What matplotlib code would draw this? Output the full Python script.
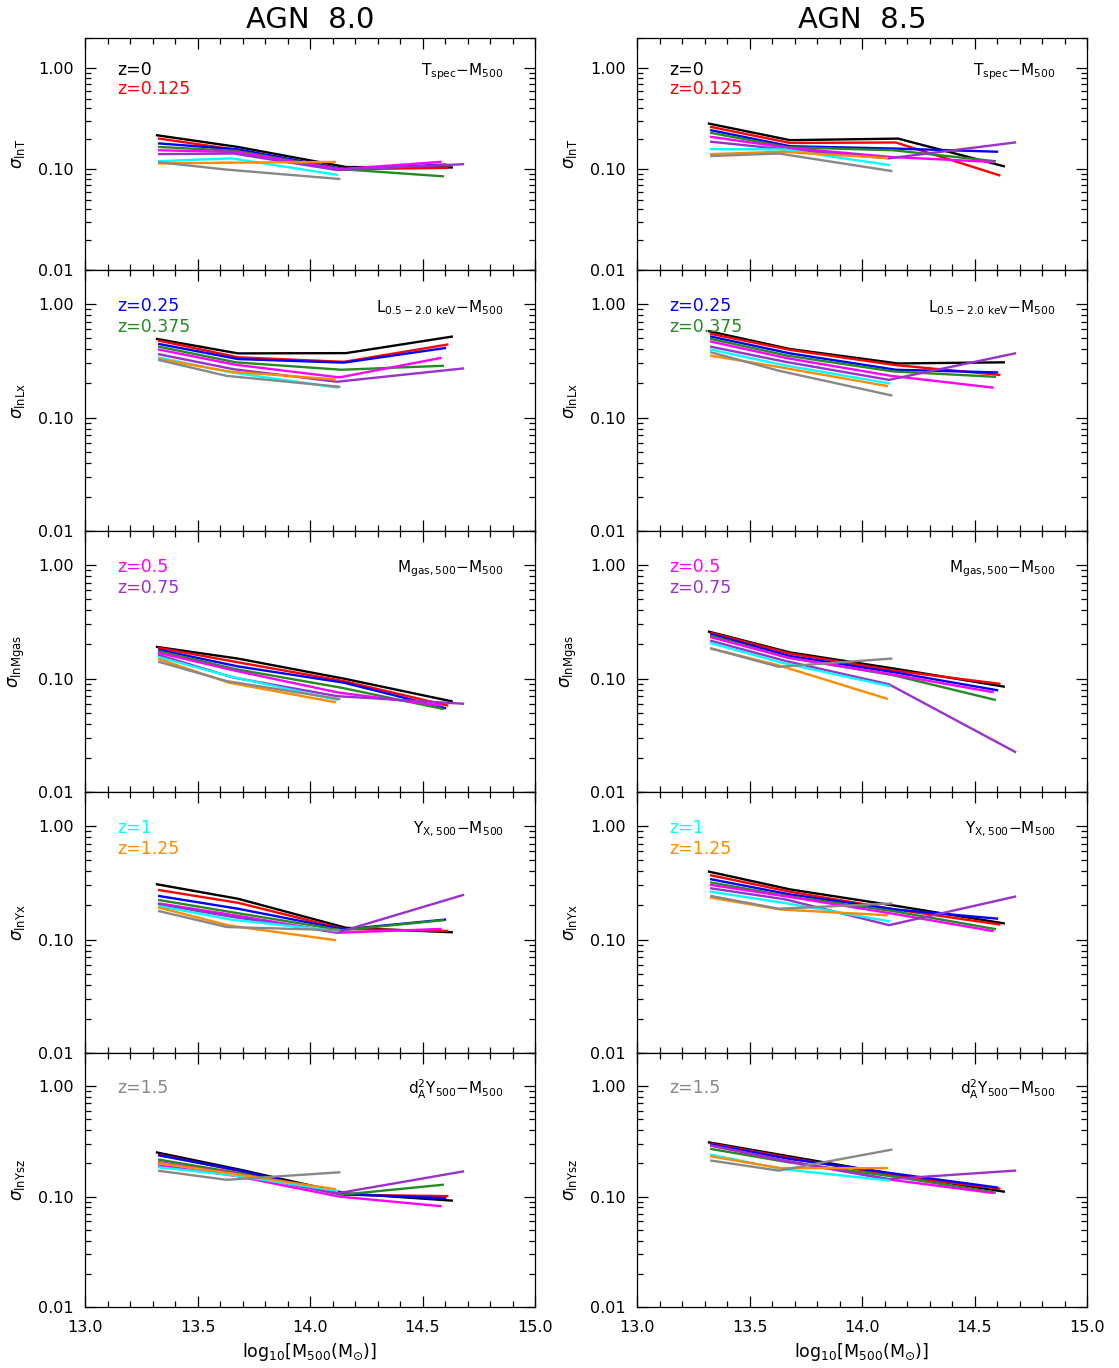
import numpy as np
import matplotlib
matplotlib.use('Agg')
import matplotlib.pyplot as plt
from matplotlib.ticker import FixedLocator, MultipleLocator, LogLocator, NullFormatter, FormatStrFormatter
import matplotlib.transforms as mtransforms

plt.rcParams['font.family'] = 'DejaVu Sans'
plt.rcParams['mathtext.fontset'] = 'dejavusans'

# redshift labels and line colours (same order as the arrays below)
z_labels = ['z=0', 'z=0.125', 'z=0.25', 'z=0.375', 'z=0.5', 'z=0.75', 'z=1', 'z=1.25', 'z=1.5']
z_colors = ['black', 'red', 'blue', '#228B22', 'magenta', '#9932CC', 'cyan', '#FF8C00', '#888888']

# median log10 M500 of each mass bin, per redshift
m500_bins = [
    [13.32, 13.68, 14.16, 14.63],
    [13.33, 13.68, 14.15, 14.61],
    [13.33, 13.68, 14.15, 14.60],
    [13.33, 13.67, 14.14, 14.59],
    [13.33, 13.67, 14.13, 14.58],
    [13.33, 13.66, 14.12, 14.68],
    [13.33, 13.65, 14.12],
    [13.33, 13.64, 14.11],
    [13.33, 13.63, 14.13],
]

# scatter values, AGN 8.0 (left) and AGN 8.5 (right)
sig_lnT_agn80 = [
    [0.217, 0.166, 0.105, 0.104], [0.201, 0.155, 0.100, 0.103], [0.180, 0.157, 0.100, 0.111],
    [0.166, 0.152, 0.100, 0.085], [0.154, 0.148, 0.100, 0.118], [0.141, 0.143, 0.098, 0.112],
    [0.120, 0.128, 0.088], [0.114, 0.116, 0.118], [0.117, 0.099, 0.080]]
sig_lnT_agn85 = [
    [0.283, 0.194, 0.201, 0.107], [0.262, 0.182, 0.184, 0.087], [0.243, 0.169, 0.160, 0.149],
    [0.229, 0.165, 0.154, 0.120], [0.209, 0.163, 0.132, 0.118], [0.187, 0.157, 0.128, 0.184],
    [0.158, 0.157, 0.110], [0.141, 0.149, 0.129], [0.135, 0.143, 0.096]]

sig_lnLx_agn80 = [
    [0.493, 0.368, 0.370, 0.517], [0.476, 0.340, 0.310, 0.440], [0.445, 0.328, 0.305, 0.410],
    [0.421, 0.307, 0.264, 0.286], [0.397, 0.292, 0.226, 0.335], [0.361, 0.267, 0.207, 0.271],
    [0.337, 0.250, 0.184], [0.328, 0.255, 0.217], [0.321, 0.233, 0.187]]
sig_lnLx_agn85 = [
    [0.577, 0.402, 0.300, 0.307], [0.546, 0.395, 0.290, 0.238], [0.517, 0.368, 0.264, 0.250],
    [0.493, 0.351, 0.255, 0.229], [0.467, 0.333, 0.233, 0.184], [0.421, 0.310, 0.215, 0.368],
    [0.397, 0.290, 0.200], [0.351, 0.277, 0.190], [0.376, 0.259, 0.157]]

sig_lnMgas_agn80 = [
    [0.190, 0.150, 0.099, 0.063], [0.186, 0.139, 0.095, 0.058], [0.179, 0.128, 0.092, 0.055],
    [0.174, 0.121, 0.083, 0.054], [0.168, 0.117, 0.075, 0.058], [0.161, 0.102, 0.070, 0.060],
    [0.154, 0.104, 0.065], [0.148, 0.092, 0.062], [0.140, 0.095, 0.066]]
sig_lnMgas_agn85 = [
    [0.259, 0.170, 0.121, 0.085], [0.252, 0.166, 0.117, 0.090], [0.246, 0.158, 0.113, 0.079],
    [0.238, 0.153, 0.107, 0.065], [0.231, 0.153, 0.109, 0.076], [0.215, 0.143, 0.089, 0.0226],
    [0.205, 0.137, 0.086], [0.184, 0.129, 0.0665], [0.184, 0.127, 0.150]]

sig_lnYx_agn80 = [
    [0.307, 0.229, 0.127, 0.116], [0.273, 0.211, 0.124, 0.119], [0.242, 0.187, 0.123, 0.150],
    [0.223, 0.172, 0.121, 0.148], [0.208, 0.163, 0.115, 0.124], [0.204, 0.158, 0.115, 0.247],
    [0.197, 0.150, 0.119], [0.191, 0.133, 0.099], [0.178, 0.129, 0.121]]
sig_lnYx_agn85 = [
    [0.397, 0.277, 0.197, 0.139], [0.368, 0.264, 0.184, 0.136], [0.340, 0.250, 0.184, 0.153],
    [0.318, 0.242, 0.178, 0.124], [0.303, 0.239, 0.170, 0.119], [0.283, 0.226, 0.134, 0.239],
    [0.264, 0.211, 0.145], [0.234, 0.184, 0.164], [0.242, 0.187, 0.208]]

sig_lnYsz_agn80 = [
    [0.251, 0.177, 0.107, 0.092], [0.239, 0.171, 0.104, 0.101], [0.236, 0.174, 0.105, 0.097],
    [0.216, 0.165, 0.104, 0.128], [0.191, 0.154, 0.100, 0.082], [0.205, 0.163, 0.107, 0.169],
    [0.184, 0.157, 0.113], [0.201, 0.163, 0.117], [0.171, 0.142, 0.166]]
sig_lnYsz_agn85 = [
    [0.310, 0.231, 0.157, 0.111], [0.301, 0.224, 0.154, 0.118], [0.296, 0.219, 0.161, 0.121],
    [0.270, 0.205, 0.152, 0.109], [0.290, 0.208, 0.142, 0.108], [0.289, 0.212, 0.144, 0.172],
    [0.239, 0.177, 0.140], [0.231, 0.181, 0.181], [0.212, 0.172, 0.266]]

col_titles = ['AGN  8.0', 'AGN  8.5']
row_ylabels = [r'$\sigma_{\rm lnT}$', r'$\sigma_{\rm lnLx}$', r'$\sigma_{\rm lnMgas}$',
               r'$\sigma_{\rm lnYx}$', r'$\sigma_{\rm lnYsz}$']
row_relations = [r'T$_{\rm spec}$$-$M$_{500}$',
                 r'L$_{\rm 0.5-2.0\ keV}$$-$M$_{500}$',
                 r'M$_{\rm gas,500}$$-$M$_{500}$',
                 r'Y$_{\rm X,500}$$-$M$_{500}$',
                 r'd$_{\rm A}^{2}$Y$_{500}$$-$M$_{500}$']
panel_data = [
    [sig_lnT_agn80, sig_lnT_agn85],
    [sig_lnLx_agn80, sig_lnLx_agn85],
    [sig_lnMgas_agn80, sig_lnMgas_agn85],
    [sig_lnYx_agn80, sig_lnYx_agn85],
    [sig_lnYsz_agn80, sig_lnYsz_agn85],
]
# which redshifts are named in each row's legend
row_legend = [[0, 1], [2, 3], [4, 5], [6, 7], [8]]

W, H = 1119, 1368
fig = plt.figure(figsize=(W / 100, H / 100), dpi=100)

# panel geometry in pixels (top, height)
row_px = [(38, 232), (270, 261), (531, 261), (792, 261), (1053, 254)]
col_px = [85, 637]
panel_w = 450

for r in range(5):
    top, h = row_px[r]
    for c in range(2):
        ax = fig.add_axes([col_px[c] / W, 1 - (top + h) / H, panel_w / W, h / H])
        data = panel_data[r][c]
        for i in range(9):
            ax.plot(m500_bins[i], data[i], color=z_colors[i], lw=1.7)
        ax.set_yscale('log')
        ax.set_xlim(13.0, 15.0)
        ax.set_ylim(0.01, 2.0)
        ax.yaxis.set_major_locator(FixedLocator([0.01, 0.1, 1.0]))
        ax.yaxis.set_major_formatter(FormatStrFormatter('%.2f'))
        ax.yaxis.set_minor_locator(LogLocator(base=10, subs=np.arange(2, 10)))
        ax.yaxis.set_minor_formatter(NullFormatter())
        ax.xaxis.set_major_locator(MultipleLocator(0.5))
        ax.xaxis.set_minor_locator(MultipleLocator(0.1))
        ax.xaxis.set_major_formatter(FormatStrFormatter('%.1f'))
        ax.tick_params(which='both', direction='in', top=True, right=True, labelsize=11.5, width=0.9)
        ax.tick_params(which='major', length=8)
        ax.tick_params(which='minor', length=4)
        ax.tick_params(axis='y', pad=8)
        ax.tick_params(axis='x', pad=9)
        if r < 4:
            ax.tick_params(axis='x', labelbottom=False)
        for sp in ax.spines.values():
            sp.set_linewidth(0.9)

        ax.set_ylabel(row_ylabels[r], fontsize=12)
        ax.yaxis.set_label_coords(-0.128, 0.5)

        trans = mtransforms.blended_transform_factory(ax.transAxes, ax.transData)
        for k, zi in enumerate(row_legend[r]):
            ax.text(0.071, [0.96, 0.63][k], z_labels[zi], color=z_colors[zi],
                    transform=trans, ha='left', va='center', fontsize=12.5)
        ax.text(0.93, 0.93, row_relations[r], transform=trans, ha='right', va='center', fontsize=11)

for c in range(2):
    xc = (col_px[c] + panel_w / 2) / W
    fig.text(xc, 1 - 20 / H, col_titles[c], ha='center', va='center', fontsize=21)
    fig.text(xc, 1 - 1352 / H, r'log$_{10}$[M$_{500}$(M$_{\odot}$)]', ha='center', va='center', fontsize=12.5)

fig.savefig('out.png', dpi=100)
